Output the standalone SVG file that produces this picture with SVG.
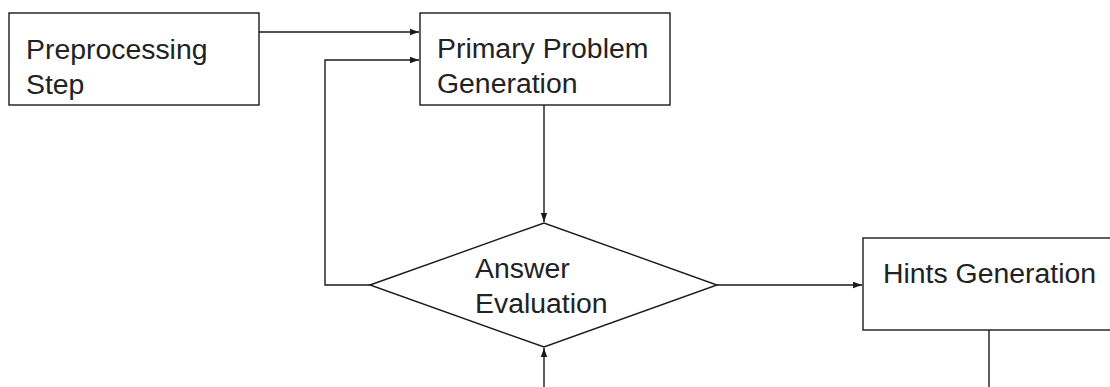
<svg xmlns="http://www.w3.org/2000/svg" width="1110" height="387" viewBox="0 0 1110 387">
  <style>
    .box { fill: #ffffff; stroke: #1a1a1a; stroke-width: 1.4; }
    .lbl { font-family: "Liberation Sans", Arial, sans-serif; font-size: 28.4px; fill: #222222; }
    .wire { fill: none; stroke: #1a1a1a; stroke-width: 1.4; }
  </style>
  <defs>
    <marker id="head" markerUnits="userSpaceOnUse" markerWidth="10" markerHeight="8" refX="9" refY="4" orient="auto">
      <path d="M0,0.8 L9,4 L0,7.2 Z" fill="#1a1a1a"/>
    </marker>
  </defs>
  <rect width="1110" height="387" fill="#ffffff"/>

  <g id="connectors">
    <path class="wire" d="M259,32 H419" marker-end="url(#head)"/>
    <path class="wire" d="M370,285 H325 V60 H419" marker-end="url(#head)"/>
    <path class="wire" d="M544,105 V222" marker-end="url(#head)"/>
    <path class="wire" d="M544,387 V348" marker-end="url(#head)"/>
    <path class="wire" d="M717,285 H862" marker-end="url(#head)"/>
    <path class="wire" d="M989,330 V387"/>
  </g>

  <g id="preprocessing">
    <rect class="box" x="9" y="13" width="250" height="92"/>
    <text class="lbl" x="26" y="59">Preprocessing</text>
    <text class="lbl" x="26" y="94">Step</text>
  </g>

  <g id="primary-problem">
    <rect class="box" x="420" y="13" width="250" height="92"/>
    <text class="lbl" x="437" y="58">Primary Problem</text>
    <text class="lbl" x="437" y="93">Generation</text>
  </g>

  <g id="answer-evaluation">
    <polygon class="box" points="370,285 544,223 717,285 544,347"/>
    <text class="lbl" x="475" y="278">Answer</text>
    <text class="lbl" x="475" y="313">Evaluation</text>
  </g>

  <g id="hints">
    <rect class="box" x="863" y="238" width="260" height="92"/>
    <text class="lbl" x="883" y="283">Hints Generation</text>
  </g>
</svg>
